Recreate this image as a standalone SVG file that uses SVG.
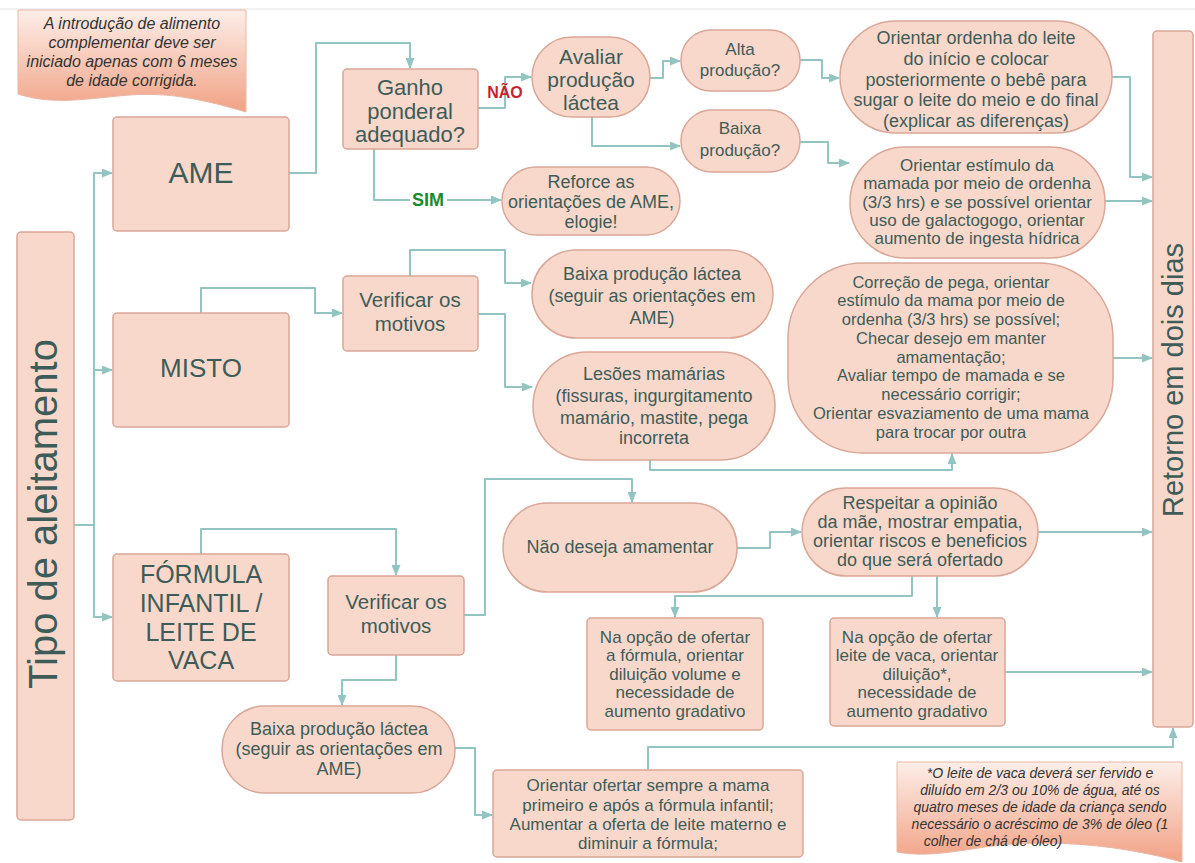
<svg xmlns="http://www.w3.org/2000/svg" width="1195" height="863" viewBox="0 0 1195 863">
<defs>
<style>
.box{fill:#f9d8cc;stroke:#d9a797;stroke-width:1.5}
.t{font-family:"Liberation Sans",Arial,sans-serif;fill:#3e5c57;text-anchor:middle}
.n{font-family:"Liberation Sans",Arial,sans-serif;fill:#333;text-anchor:middle;font-style:italic}
.c{fill:none;stroke:#92c5c1;stroke-width:2;stroke-linejoin:round}
.a{marker-end:url(#arr)}
</style>
<marker id="arr" markerUnits="userSpaceOnUse" markerWidth="11" markerHeight="9" refX="10" refY="4.5" orient="auto">
<path d="M0,0 L11,4.5 L0,9 z" fill="#92c5c1"/>
</marker>
<linearGradient id="doc" x1="0" y1="0" x2="0" y2="1">
<stop offset="0" stop-color="#fdeee8"/>
<stop offset="1" stop-color="#f1a285"/>
</linearGradient>
</defs>
<rect width="1195" height="863" fill="#ffffff"/>
<line x1="0" y1="9" x2="1195" y2="9" stroke="#e3e3e3" stroke-width="1"/>

<g id="connectors">
<path class="c a" d="M74,525 H94 V173 H112"/>
<path class="c a" d="M94,370 H112"/>
<path class="c a" d="M94,525 V617 H112"/>
<path class="c a" d="M289,173 H316 V43 H410 V68"/>
<path class="c a" d="M478,108 H505 V77 H531"/>
<path class="c a" d="M374,149 V200 H501"/>
<path class="c a" d="M650,78 H663 V61 H680"/>
<path class="c a" d="M592,117 V146 H680"/>
<path class="c a" d="M800,60 H822 V78 H839"/>
<path class="c a" d="M800,142 H828 V163 H849"/>
<path class="c a" d="M1112,77 H1130 V177 H1152"/>
<path class="c a" d="M1105,201 H1152"/>
<path class="c a" d="M201,313 V288 H315 V313 H342"/>
<path class="c a" d="M410,276 V250 H505 V283 H531"/>
<path class="c a" d="M478,314 H505 V387 H532"/>
<path class="c a" d="M650,460 V470 H952 V454"/>
<path class="c a" d="M1113,358 H1152"/>
<path class="c a" d="M201,554 V529 H396 V575"/>
<path class="c a" d="M464,615 H485 V479 H632 V502"/>
<path class="c a" d="M396,655 V680 H342 V705"/>
<path class="c a" d="M455,748 H475 V815 H492"/>
<path class="c a" d="M648,770 V747 H1173 V728"/>
<path class="c a" d="M737,548 H770 V532 H801"/>
<path class="c a" d="M1038,532 H1152"/>
<path class="c a" d="M912,576 V596 H675 V617"/>
<path class="c a" d="M937,576 V617"/>
<path class="c a" d="M1005,672 H1152"/>
<rect x="410" y="190" width="37" height="20" fill="#ffffff"/>
<text x="428" y="206" font-family="Liberation Sans,Arial,sans-serif" font-weight="bold" font-size="18" fill="#1a8a2e" text-anchor="middle">SIM</text>
<text x="505" y="98" font-family="Liberation Sans,Arial,sans-serif" font-weight="bold" font-size="16" fill="#cc1f2f" text-anchor="middle">NÃO</text>
</g>

<g id="note-top">
<path d="M18,10 H246 V112 C205,100 170,92 130,95 C90,98 55,106 18,94 Z" fill="url(#doc)" stroke="#e8b8a6" stroke-width="1"/>
<text class="n" font-size="16"><tspan x="132" y="29">A introdução de alimento</tspan><tspan x="132" y="48">complementar deve ser</tspan><tspan x="132" y="67">iniciado apenas com 6 meses</tspan><tspan x="132" y="86">de idade corrigida.</tspan></text>
</g>

<g id="tipo">
<rect class="box" x="17" y="232" width="57" height="588" rx="4"/>
<text class="t" font-size="40" transform="translate(57,514) rotate(-90)">Tipo de aleitamento</text>
</g>

<g id="retorno">
<rect class="box" x="1153" y="31" width="40" height="696" rx="4"/>
<text class="t" font-size="29" transform="translate(1183,380) rotate(-90)">Retorno em dois dias</text>
</g>

<g id="ame">
<rect class="box" x="113" y="117" width="176" height="114" rx="4"/>
<text class="t" font-size="30" x="201" y="183">AME</text>
</g>

<g id="misto">
<rect class="box" x="113" y="313" width="176" height="114" rx="4"/>
<text class="t" font-size="26" x="201" y="377">MISTO</text>
</g>

<g id="formula">
<rect class="box" x="113" y="554" width="176" height="127" rx="4"/>
<text class="t" font-size="25"><tspan x="201" y="583">FÓRMULA</tspan><tspan x="201" y="612">INFANTIL /</tspan><tspan x="201" y="641">LEITE DE</tspan><tspan x="201" y="669">VACA</tspan></text>
</g>

<g id="ganho">
<rect class="box" x="343" y="69" width="135" height="80" rx="4"/>
<text class="t" font-size="22"><tspan x="410" y="95">Ganho</tspan><tspan x="410" y="119">ponderal</tspan><tspan x="410" y="142">adequado?</tspan></text>
</g>

<g id="avaliar">
<rect class="box" x="532" y="37" width="118" height="80" rx="40"/>
<text class="t" font-size="21"><tspan x="591" y="64">Avaliar</tspan><tspan x="591" y="87">produção</tspan><tspan x="591" y="110">láctea</tspan></text>
</g>

<g id="reforce">
<rect class="box" x="502" y="167" width="178" height="68" rx="34"/>
<text class="t" font-size="18"><tspan x="591" y="188">Reforce as</tspan><tspan x="591" y="208">orientações de AME,</tspan><tspan x="591" y="228">elogie!</tspan></text>
</g>

<g id="alta">
<rect class="box" x="681" y="30" width="119" height="61" rx="30"/>
<text class="t" font-size="17"><tspan x="740" y="55">Alta</tspan><tspan x="740" y="76">produção?</tspan></text>
</g>

<g id="baixa">
<rect class="box" x="681" y="110" width="119" height="62" rx="31"/>
<text class="t" font-size="17"><tspan x="740" y="134">Baixa</tspan><tspan x="740" y="156">produção?</tspan></text>
</g>

<g id="ordenha">
<rect class="box" x="840" y="21" width="272" height="112" rx="56"/>
<text class="t" font-size="18"><tspan x="976" y="44">Orientar ordenha do leite</tspan><tspan x="976" y="65">do início e colocar</tspan><tspan x="976" y="86">posteriormente o bebê para</tspan><tspan x="976" y="106">sugar o leite do meio e do final</tspan><tspan x="976" y="127">(explicar as diferenças)</tspan></text>
</g>

<g id="estimulo">
<rect class="box" x="850" y="147" width="255" height="111" rx="55"/>
<text class="t" font-size="17"><tspan x="977" y="171">Orientar estímulo da</tspan><tspan x="977" y="189">mamada por meio de ordenha</tspan><tspan x="977" y="208">(3/3 hrs) e se possível orientar</tspan><tspan x="977" y="226">uso de galactogogo, orientar</tspan><tspan x="977" y="244">aumento de ingesta hídrica</tspan></text>
</g>

<g id="verificar1">
<rect class="box" x="343" y="276" width="135" height="75" rx="4"/>
<text class="t" font-size="20.5"><tspan x="410" y="307">Verificar os</tspan><tspan x="410" y="331">motivos</tspan></text>
</g>

<g id="baixa-lactea1">
<rect class="box" x="532" y="250" width="241" height="88" rx="44"/>
<text class="t" font-size="18"><tspan x="652" y="280">Baixa produção láctea</tspan><tspan x="652" y="302">(seguir as orientações em</tspan><tspan x="652" y="324">AME)</tspan></text>
</g>

<g id="lesoes">
<rect class="box" x="533" y="352" width="242" height="108" rx="54"/>
<text class="t" font-size="18"><tspan x="654" y="380">Lesões mamárias</tspan><tspan x="654" y="402">(fissuras, ingurgitamento</tspan><tspan x="654" y="424">mamário, mastite, pega</tspan><tspan x="654" y="444">incorreta</tspan></text>
</g>

<g id="correcao">
<rect class="box" x="788" y="263" width="325" height="190" rx="75"/>
<text class="t" font-size="16.5"><tspan x="951" y="288">Correção de pega, orientar</tspan><tspan x="951" y="306">estímulo da mama por meio de</tspan><tspan x="951" y="325">ordenha (3/3 hrs) se possível;</tspan><tspan x="951" y="344">Checar desejo em manter</tspan><tspan x="951" y="363">amamentação;</tspan><tspan x="951" y="381">Avaliar tempo de mamada e se</tspan><tspan x="951" y="400">necessário corrigir;</tspan><tspan x="951" y="419">Orientar esvaziamento de uma mama</tspan><tspan x="951" y="438">para trocar por outra</tspan></text>
</g>

<g id="verificar2">
<rect class="box" x="328" y="576" width="136" height="79" rx="4"/>
<text class="t" font-size="20.5"><tspan x="396" y="609">Verificar os</tspan><tspan x="396" y="633">motivos</tspan></text>
</g>

<g id="baixa-lactea2">
<rect class="box" x="222" y="706" width="233" height="87" rx="43"/>
<text class="t" font-size="18"><tspan x="339" y="735">Baixa produção láctea</tspan><tspan x="339" y="755">(seguir as orientações em</tspan><tspan x="339" y="775">AME)</tspan></text>
</g>

<g id="ofertar">
<rect class="box" x="493" y="770" width="310" height="87" rx="4"/>
<text class="t" font-size="17"><tspan x="648" y="791">Orientar ofertar sempre a mama</tspan><tspan x="648" y="811">primeiro e após a fórmula infantil;</tspan><tspan x="648" y="830">Aumentar a oferta de leite materno e</tspan><tspan x="648" y="849">diminuir a fórmula;</tspan></text>
</g>

<g id="nao-deseja">
<rect class="box" x="503" y="503" width="234" height="89" rx="44"/>
<text class="t" font-size="18" x="620" y="553">Não deseja amamentar</text>
</g>

<g id="respeitar">
<rect class="box" x="802" y="488" width="236" height="88" rx="44"/>
<text class="t" font-size="18"><tspan x="920" y="509">Respeitar a opinião</tspan><tspan x="920" y="528">da mãe, mostrar empatia,</tspan><tspan x="920" y="547">orientar riscos e beneficios</tspan><tspan x="920" y="566">do que será ofertado</tspan></text>
</g>

<g id="opcao-formula">
<rect class="box" x="587" y="618" width="176" height="112" rx="4"/>
<text class="t" font-size="17"><tspan x="675" y="643">Na opção de ofertar</tspan><tspan x="675" y="661">a fórmula, orientar</tspan><tspan x="675" y="680">diluição volume e</tspan><tspan x="675" y="698">necessidade de</tspan><tspan x="675" y="717">aumento gradativo</tspan></text>
</g>

<g id="opcao-leite">
<rect class="box" x="830" y="618" width="175" height="108" rx="4"/>
<text class="t" font-size="17"><tspan x="917" y="643">Na opção de ofertar</tspan><tspan x="917" y="661">leite de vaca, orientar</tspan><tspan x="917" y="680">diluição*,</tspan><tspan x="917" y="698">necessidade de</tspan><tspan x="917" y="717">aumento gradativo</tspan></text>
</g>

<g id="note-bottom">
<path d="M897,762 H1182 V862 C1120,845 1060,840 1000,845 C960,850 930,858 897,852 Z" fill="url(#doc)" stroke="#e8b8a6" stroke-width="1"/>
<text class="n" font-size="14"><tspan x="1040" y="778">*O leite de vaca deverá ser fervido e</tspan><tspan x="1040" y="795">diluído em 2/3 ou 10% de água, até os</tspan><tspan x="1040" y="812">quatro meses de idade da criança sendo</tspan><tspan x="1040" y="829">necessário o acréscimo de 3% de óleo (1</tspan><tspan x="993" y="846">colher de chá de óleo)</tspan></text>
</g>
</svg>
